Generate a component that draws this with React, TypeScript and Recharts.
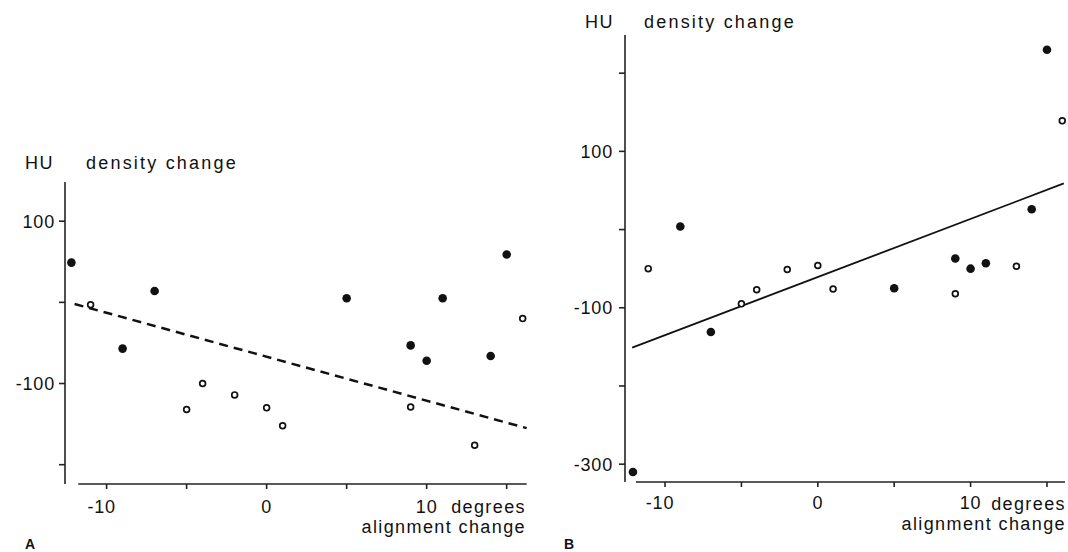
import { ReferenceLine, Scatter, ScatterChart, XAxis, YAxis } from "recharts";

const FONT = "'Liberation Sans', Arial, Helvetica, sans-serif";
const INK = "#111";

// alignment change (degrees) on x, density change (HU) on y
const xTicks = [-10, -5, 0, 5, 10, 15];
const xLabels = [-10, 0, 10];

// panel A
const aTicksY = [100, 0, -100, -200];
const aLabelsY = [100, -100];
const aFilledX = [-12.2, -9, -7, 5, 9, 10, 11, 14, 15];
const aFilledY = [49, -57, 14, 5, -53, -72, 5, -66, 59];
const aOpenX = [-11, -5, -4, -2, 0, 1, 9, 13, 16];
const aOpenY = [-3, -132, -100, -114, -130, -152, -129, -176, -20];
const aFitX = [-12.0, 16.25];
const aFitY = [-2, -155];

// panel B
const bTicksY = [200, 100, 0, -100, -200, -300];
const bLabelsY = [100, -100, -300];
const bFilledX = [-12.1, -9, -7, 5, 9, 10, 11, 14, 15];
const bFilledY = [-310, 4, -131, -75, -37, -50, -43, 26, 230];
const bOpenX = [-11.1, -5, -4, -2, 0, 1, 9, 13, 16];
const bOpenY = [-50, -95, -77, -51, -46, -76, -82, -47, 139];
const bFitX = [-12.15, 16.1];
const bFitY = [-151, 59];

const toPoints = (xs: number[], ys: number[]) =>
  xs.map((x, i) => ({ x, y: ys[i] }));

const FilledDot = (p: any) => (
  <circle cx={p.cx} cy={p.cy} r={4.3} fill={INK} />
);
const OpenDot = (p: any) => (
  <circle cx={p.cx} cy={p.cy} r={2.9} fill="#fff" stroke={INK} strokeWidth={1.7} />
);

function XTick(p: any) {
  const v = p.payload.value;
  if (!xLabels.includes(v)) return <g />;
  return (
    <text
      x={p.x + (v < 0 ? -5 : 0)}
      y={p.y}
      dy="0.71em"
      textAnchor="middle"
      fontSize={18}
      letterSpacing={0.8}
      fontFamily={FONT}
      fill={INK}
    >
      {v}
    </text>
  );
}

const yTickStyle = { fontSize: 18, fontFamily: FONT, fill: INK, letterSpacing: 0.8 };
const axisStroke = { stroke: "#222", strokeWidth: 1.6 };

function Titles() {
  const t = { fontFamily: FONT, fontSize: 18, fill: INK, letterSpacing: 1.4 };
  return (
    <svg
      width={1068}
      height={552}
      style={{ position: "absolute", left: 0, top: 0, pointerEvents: "none" }}
    >
      <text x={25} y={169} {...t}>HU</text>
      <text x={86} y={169} {...t} letterSpacing={2.2}>density change</text>
      <text x={526} y={513} textAnchor="end" {...t}>degrees</text>
      <text x={526} y={533} textAnchor="end" {...t}>alignment change</text>
      <text x={25} y={549} fontFamily={FONT} fontSize={14} fontWeight="bold" fill={INK}>A</text>

      <text x={585} y={28} {...t}>HU</text>
      <text x={644} y={28} {...t} letterSpacing={2.2}>density change</text>
      <text x={1066} y={510} textAnchor="end" {...t}>degrees</text>
      <text x={1066} y={530} textAnchor="end" {...t}>alignment change</text>
      <text x={564} y={549} fontFamily={FONT} fontSize={14} fontWeight="bold" fill={INK}>B</text>
    </svg>
  );
}

export default function App() {
  return (
    <div
      style={{
        position: "absolute",
        left: 0,
        top: 0,
        width: 1068,
        height: 552,
        background: "#fff",
        overflow: "hidden",
      }}
    >
      <div style={{ position: "absolute", left: 0, top: 0 }}>
        <ScatterChart
          width={540}
          height={552}
          margin={{ top: 182, right: 13, bottom: 38, left: 0 }}
        >
          <XAxis
            type="number"
            dataKey="x"
            domain={[-12.6, 16.27]}
            ticks={xTicks}
            axisLine={false}
            tickLine={axisStroke}
            tickSize={5}
            tickMargin={11}
            height={30}
            tick={XTick}
          />
          <YAxis
            type="number"
            dataKey="y"
            domain={[-223.8, 148.3]}
            ticks={aTicksY}
            width={65}
            axisLine={axisStroke}
            tickLine={axisStroke}
            tickSize={6}
            tickMargin={4}
            tick={yTickStyle}
            tickFormatter={(v: number) => (aLabelsY.includes(v) ? String(v) : "")}
          />
          <ReferenceLine
            segment={[
              { x: -11.77, y: -223.8 },
              { x: 16.25, y: -223.8 },
            ]}
            stroke="#222"
            strokeWidth={1.6}
            ifOverflow="visible"
          />
          <ReferenceLine
            segment={[
              { x: aFitX[0], y: aFitY[0] },
              { x: aFitX[1], y: aFitY[1] },
            ]}
            stroke={INK}
            strokeWidth={2.5}
            strokeDasharray="9 6"
            ifOverflow="visible"
          />
          <Scatter data={toPoints(aFilledX, aFilledY)} shape={FilledDot} isAnimationActive={false} />
          <Scatter data={toPoints(aOpenX, aOpenY)} shape={OpenDot} isAnimationActive={false} />
        </ScatterChart>
      </div>

      <div style={{ position: "absolute", left: 540, top: 0 }}>
        <ScatterChart
          width={528}
          height={552}
          margin={{ top: 35, right: 3, bottom: 40, left: 0 }}
        >
          <XAxis
            type="number"
            dataKey="x"
            domain={[-12.62, 16.18]}
            ticks={xTicks}
            axisLine={false}
            tickLine={axisStroke}
            tickSize={5}
            tickMargin={9}
            height={30}
            tick={XTick}
          />
          <YAxis
            type="number"
            dataKey="y"
            domain={[-322.8, 248.8]}
            ticks={bTicksY}
            width={85}
            axisLine={axisStroke}
            tickLine={axisStroke}
            tickSize={6}
            tickMargin={6}
            tick={yTickStyle}
            tickFormatter={(v: number) => (bLabelsY.includes(v) ? String(v) : "")}
          />
          <ReferenceLine
            segment={[
              { x: -11.9, y: -322.8 },
              { x: 16.18, y: -322.8 },
            ]}
            stroke="#222"
            strokeWidth={1.6}
            ifOverflow="visible"
          />
          <ReferenceLine
            segment={[
              { x: bFitX[0], y: bFitY[0] },
              { x: bFitX[1], y: bFitY[1] },
            ]}
            stroke={INK}
            strokeWidth={1.8}
            ifOverflow="visible"
          />
          <Scatter data={toPoints(bFilledX, bFilledY)} shape={FilledDot} isAnimationActive={false} />
          <Scatter data={toPoints(bOpenX, bOpenY)} shape={OpenDot} isAnimationActive={false} />
        </ScatterChart>
      </div>

      <Titles />
    </div>
  );
}
